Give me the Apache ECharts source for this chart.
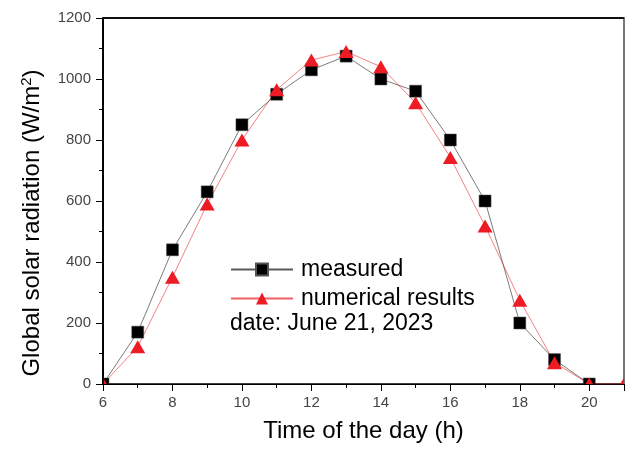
<!DOCTYPE html>
<html>
<head>
<meta charset="utf-8">
<script src="https://cdn.jsdelivr.net/npm/echarts@6/dist/echarts.min.js"></script>
<style>
  html, body { margin: 0; padding: 0; background: #fff; }
  #chart { width: 633px; height: 450px; }
</style>
</head>
<body>
<div id="chart"></div>
<script>
// Hour of the day
const hours = [6, 7, 8, 9, 10, 11, 12, 13, 14, 15, 16, 17, 18, 19, 20, 21];
// Measured global solar radiation (W/m2), 6h .. 20h
const measured = [0, 170, 440, 630, 850, 950, 1030, 1075, 1000, 960, 800, 600, 200, 80, 0];
// Numerical model results (W/m2), 6h .. 21h
const numerical = [0, 122, 350, 590, 800, 965, 1062, 1090, 1040, 922, 743, 518, 275, 70, 0, 0];
const xTickLabels = [6, 8, 10, 12, 14, 16, 18, 20];
const yTickLabels = [0, 200, 400, 600, 800, 1000, 1200];

const FONT = 'Liberation Sans, Arial, sans-serif';
const BLACK = '#000';
const RED = '#ed1c24';
const X_MIN = hours[0], X_MAX = hours[hours.length - 1];
const Y_MIN = yTickLabels[0], Y_MAX = yTickLabels[yTickLabels.length - 1];

const toPairs = (vals) => vals.map((v, i) => [hours[i], v]);

const chart = echarts.init(document.getElementById('chart'), null, { renderer: 'canvas' });

// Markers are drawn by custom series so they get clipped at the plot frame
function squareMarker(params, api) {
  const p = api.coord([api.value(0), api.value(1)]);
  return {
    type: 'rect',
    shape: { x: p[0] - 6, y: p[1] - 6, width: 12, height: 12 },
    style: { fill: BLACK, stroke: '#555', lineWidth: 0.5 }
  };
}
function triangleMarker(params, api) {
  const p = api.coord([api.value(0), api.value(1)]);
  return {
    type: 'polygon',
    shape: { points: [[p[0], p[1] - 6.5], [p[0] + 7.5, p[1] + 6.5], [p[0] - 7.5, p[1] + 6.5]] },
    style: { fill: RED }
  };
}

chart.setOption({
  animation: false,
  grid: {
    left: 103, right: 9, top: 18, bottom: 66,
    show: true, borderColor: '#000', borderWidth: 1.5, backgroundColor: 'transparent'
  },
  xAxis: [{
    type: 'value',
    min: X_MIN,
    max: X_MAX,
    interval: 2,
    name: 'Time of the day (h)',
    nameLocation: 'middle',
    nameGap: 35,
    nameTextStyle: { fontSize: 24, color: '#000', fontFamily: FONT },
    axisLine: { show: true, onZero: false, lineStyle: { color: '#000', width: 1.2 } },
    axisTick: { show: true, inside: false, length: 7, lineStyle: { color: '#000', width: 1 } },
    minorTick: { show: true, splitNumber: 2, length: 4, lineStyle: { color: '#000', width: 1 } },
    splitLine: { show: false },
    axisLabel: {
      fontSize: 15, color: '#444', fontFamily: FONT, margin: 11,
      formatter: (v) => (xTickLabels.indexOf(v) >= 0 ? String(v) : '')
    }
  }],
  yAxis: [{
    type: 'value',
    min: Y_MIN,
    max: Y_MAX,
    interval: 200,
    axisLine: { show: true, onZero: false, lineStyle: { color: '#000', width: 1.5 } },
    axisTick: { show: true, inside: false, length: 7, lineStyle: { color: '#000', width: 1 } },
    minorTick: { show: true, splitNumber: 2, length: 4, lineStyle: { color: '#000', width: 1 } },
    splitLine: { show: false },
    axisLabel: { fontSize: 15, color: '#444', fontFamily: FONT, margin: 12, formatter: (v) => String(v) }
  }, {
    type: 'value',
    position: 'right',
    min: Y_MIN,
    max: Y_MAX,
    axisLine: { show: true, onZero: false, lineStyle: { color: '#8a8a8a', width: 1.5 } },
    axisTick: { show: false },
    axisLabel: { show: false },
    splitLine: { show: false }
  }],
  legend: {
    data: ['measured', 'numerical results'],
    orient: 'vertical',
    left: 225,
    top: 253,
    itemWidth: 62,
    itemHeight: 15,
    itemGap: 6,
    textStyle: { fontSize: 23, color: '#000', fontFamily: FONT, lineHeight: 23, padding: [0, 0, 0, 3] }
  },
  graphic: {
    elements: [
      {
        // y-axis title with a superscript exponent
        id: 'yTitle', type: 'text', z: 20, x: 32, y: 223, rotation: Math.PI / 2,
        style: {
          text: '{a|Global solar radiation (W/m}{s|2}{a|)}',
          align: 'center', verticalAlign: 'middle',
          rich: {
            a: { fontSize: 24, fontFamily: FONT, fill: '#000', lineHeight: 26 },
            s: { fontSize: 15, fontFamily: FONT, fill: '#000', verticalAlign: 'top', lineHeight: 15 }
          }
        }
      },
      {
        id: 'dateNote', type: 'text', z: 20, left: 230, top: 312,
        style: { text: 'date: June 21, 2023', font: '23px ' + FONT, fill: '#000' }
      }
    ]
  },
  series: [{
    name: 'measured',
    type: 'line',
    data: toPairs(measured),
    symbol: 'rect',
    symbolSize: 12,
    showSymbol: false,
    z: 2,
    itemStyle: { color: BLACK, borderColor: '#555', borderWidth: 0.5 },
    lineStyle: { color: 'rgba(0,0,0,0.65)', width: 0.8 }
  }, {
    name: 'numerical results',
    type: 'line',
    data: toPairs(numerical),
    symbol: 'triangle',
    symbolSize: [15, 13],
    showSymbol: false,
    z: 3,
    itemStyle: { color: RED },
    lineStyle: { color: 'rgba(237,28,36,0.7)', width: 0.8 }
  }, {
    name: 'measured markers',
    type: 'custom',
    data: toPairs(measured),
    renderItem: squareMarker,
    clip: true,
    z: 4
  }, {
    name: 'numerical markers',
    type: 'custom',
    data: toPairs(numerical),
    renderItem: triangleMarker,
    clip: true,
    z: 5
  }]
});

// Left and top edges of the plot frame, placed from the axis extents
const corner0 = chart.convertToPixel({ xAxisIndex: 0, yAxisIndex: 0 }, [X_MIN, Y_MIN]);
const corner1 = chart.convertToPixel({ xAxisIndex: 0, yAxisIndex: 0 }, [X_MAX, Y_MAX]);
chart.setOption({
  graphic: {
    elements: [
      {
        id: 'frameLeft', type: 'line', z: 100,
        shape: { x1: corner0[0], y1: corner1[1], x2: corner0[0], y2: corner0[1] },
        style: { stroke: '#000', lineWidth: 1.6 }
      },
      {
        id: 'frameTop', type: 'line', z: 100,
        shape: { x1: corner0[0], y1: corner1[1], x2: corner1[0], y2: corner1[1] },
        style: { stroke: '#000', lineWidth: 1.6 }
      }
    ]
  }
});
</script>
</body>
</html>
